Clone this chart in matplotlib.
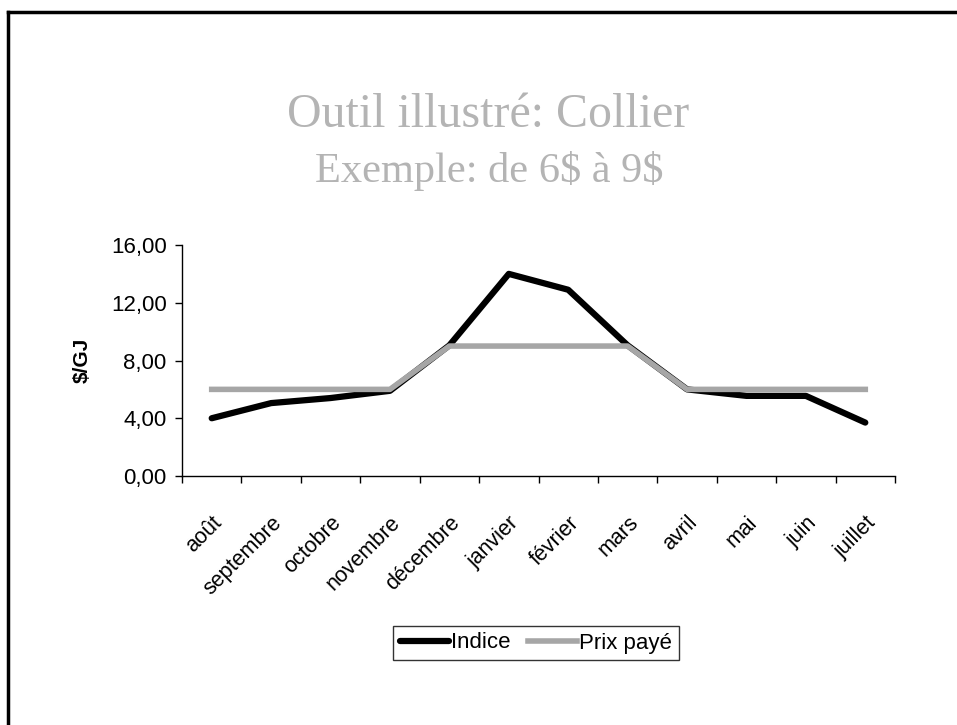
import numpy as np
import matplotlib.pyplot as plt
from matplotlib.lines import Line2D
from matplotlib.transforms import ScaledTranslation

# ========== DONNÉES ==========
mois = ['août', 'septembre', 'octobre', 'novembre', 'décembre', 'janvier',
        'février', 'mars', 'avril', 'mai', 'juin', 'juillet']
indice = [4.0, 5.05, 5.4, 5.9, 9.05, 14.0, 12.9, 9.05, 6.0, 5.55, 5.55, 3.7]
prix_paye = [6.0, 6.0, 6.0, 6.0, 9.0, 9.0, 9.0, 9.0, 6.0, 6.0, 6.0, 6.0]
y_ticks = [0, 4, 8, 12, 16]

GRIS = '#a6a6a6'

fig = plt.figure(figsize=(9.57, 7.25), dpi=100)

# cadre (haut + gauche)
fig.add_artist(Line2D([8 / 957, 8 / 957], [0, 1 - 12 / 725], color='black', lw=2.5))
fig.add_artist(Line2D([8 / 957, 1], [1 - 12 / 725, 1 - 12 / 725], color='black', lw=2.5))

# ========== TITRE ==========
fig.text(488 / 957, 1 - 127 / 725, 'Outil illustré: Collier', ha='center', va='baseline',
         family='Liberation Serif', fontsize=34.5, color='#b4b4b4')
fig.text(489 / 957, 1 - 182 / 725, r'Exemple: de 6\$ à 9\$', ha='center', va='baseline',
         family='Liberation Serif', fontsize=30.5, color='#b4b4b4')

# ========== GRAPHIQUE ==========
ax = fig.add_axes([182 / 957, 1 - 476 / 725, 713 / 957, 231 / 725])
x = np.arange(len(mois)) + 0.5
ax.plot(x, indice, color='black', lw=4.5, solid_joinstyle='round', solid_capstyle='round',
        label='Indice', zorder=2)
ax.plot(x, prix_paye, color=GRIS, lw=4, solid_joinstyle='round', label='Prix payé', zorder=3)

ax.set_xlim(0, len(mois))
ax.set_ylim(0, 16)
ax.set_yticks(y_ticks)
ax.set_yticklabels([f'{v:.2f}'.replace('.', ',') for v in y_ticks],
                   family='Liberation Sans', fontsize=16)
ax.set_xticks(np.arange(len(mois) + 1))
ax.set_xticklabels([])
ax.set_xticks(x, minor=True)
ax.set_xticklabels(mois, minor=True, rotation=45, ha='right', va='top',
                   rotation_mode='anchor', family='Liberation Sans', fontsize=15.5)
decal = ScaledTranslation(-13 / 100, 0, fig.dpi_scale_trans)
for lab in ax.get_xticklabels(minor=True):
    lab.set_transform(lab.get_transform() + decal)
ax.tick_params(axis='x', which='minor', length=0, pad=26)
ax.tick_params(axis='both', which='major', direction='out', length=5, width=1, color='black')
ax.tick_params(axis='y', pad=6)

for s in ['top', 'right']:
    ax.spines[s].set_visible(False)
for s in ['left', 'bottom']:
    ax.spines[s].set_linewidth(1)

ax.set_ylabel(r'\$/GJ', family='Liberation Sans', fontsize=15, fontweight='bold', labelpad=14)

leg = ax.legend(loc='center', bbox_to_anchor=(536 / 957, 1 - 643 / 725),
                bbox_transform=fig.transFigure, ncol=2, frameon=True, fancybox=False,
                prop={'family': 'Liberation Sans', 'size': 16}, handlelength=2.2,
                handletextpad=0.1, columnspacing=0.8, borderpad=0.3)
leg.get_frame().set_edgecolor('black')
leg.get_frame().set_linewidth(1)

plt.savefig('out.png', dpi=100)
